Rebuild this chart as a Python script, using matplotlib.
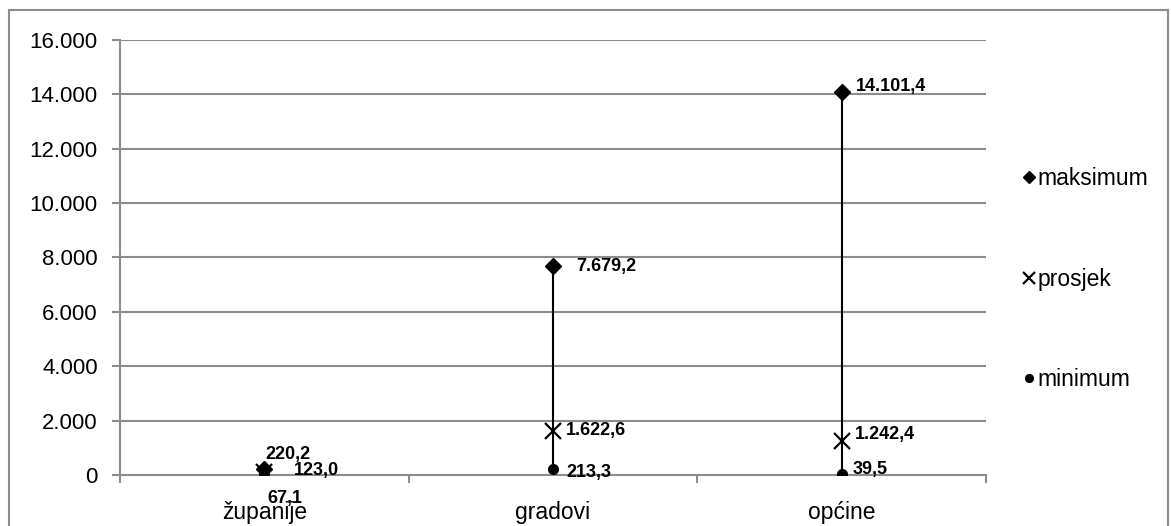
import matplotlib
matplotlib.use('Agg')
import matplotlib.pyplot as plt
from matplotlib.patches import Rectangle
from matplotlib.ticker import FuncFormatter

plt.rcParams['font.family'] = ['Liberation Sans', 'DejaVu Sans']

categories = ['županije', 'gradovi', 'općine']
maksimum = [220.2, 7679.2, 14101.4]
prosjek = [123.0, 1622.6, 1242.4]
minimum = [67.1, 213.3, 39.5]
yticks = [0, 2000, 4000, 6000, 8000, 10000, 12000, 14000, 16000]

def hr(v, dec=1):
    s = f'{v:,.{dec}f}'
    return s.replace(',', 'X').replace('.', ',').replace('X', '.')

# label offsets in pixels (dx, dy) for max / avg / min per category
off_max = [(1, 14), (23, 0), (14, 5)]
off_avg = [(30, 1), (13, 0), (13, 7)]
off_min = [(3, -25), (13, -3), (11, 4)]

fig = plt.figure(figsize=(11.71, 5.26), dpi=100)
ax = fig.add_axes([0.1025, 0.097, 0.7395, 0.827])

x = list(range(len(categories)))
grid_c = '#8c8c8c'

for i in x:
    ax.plot([i, i], [minimum[i], maksimum[i]], color='black', lw=1.5, zorder=3)
ax.plot(x, maksimum, 'D', color='black', ms=8, ls='none', zorder=4, label='maksimum')
ax.plot(x, prosjek, 'x', color='black', ms=11, mew=1.6, ls='none', zorder=4, label='prosjek')
ax.plot(x, minimum, 'o', color='black', ms=7, ls='none', zorder=4, label='minimum')

px = 72 / 100
for vals, offs in [(maksimum, off_max), (prosjek, off_avg), (minimum, off_min)]:
    for i, v in enumerate(vals):
        dx, dy = offs[i]
        ax.annotate(hr(v), (i, v), xytext=(dx * px, dy * px), textcoords='offset points',
                    ha='left', va='center', fontsize=13, fontweight='bold', zorder=5)

ax.set_xlim(-0.5, 2.5)
ax.set_ylim(0, 16000)
ax.set_yticks(yticks)
ax.yaxis.set_major_formatter(FuncFormatter(lambda v, p: hr(v, 0)))
ax.set_xticks(x)
ax.set_xticklabels(categories)
ax.set_xticks([-0.5, 0.5, 1.5, 2.5], minor=True)
ax.tick_params(axis='x', which='major', length=0, labelsize=16.5, pad=19)
ax.tick_params(axis='x', which='minor', length=6, width=1.5, color=grid_c)
ax.tick_params(axis='y', length=6, width=1.5, color=grid_c, labelsize=16, pad=10)
ax.grid(axis='y', color=grid_c, lw=1.5)
ax.set_axisbelow(True)
for s in ['top', 'right']:
    ax.spines[s].set_visible(False)
for s in ['left', 'bottom']:
    ax.spines[s].set_color(grid_c)
    ax.spines[s].set_linewidth(1.5)

leg = ax.legend(loc='center left', bbox_to_anchor=(1.033, 0.45), frameon=False,
                fontsize=16.5, labelspacing=3.38, handlelength=0.45, handletextpad=0.15,
                markerscale=0.8, borderaxespad=0)

fig.patches.append(Rectangle((9 / 1171, -0.05), (1168 - 9) / 1171, 1.05 - 10 / 526,
                             transform=fig.transFigure, fill=False, edgecolor='#8c8c8c',
                             lw=1.5, zorder=0))

fig.savefig('out.png', dpi=100)
